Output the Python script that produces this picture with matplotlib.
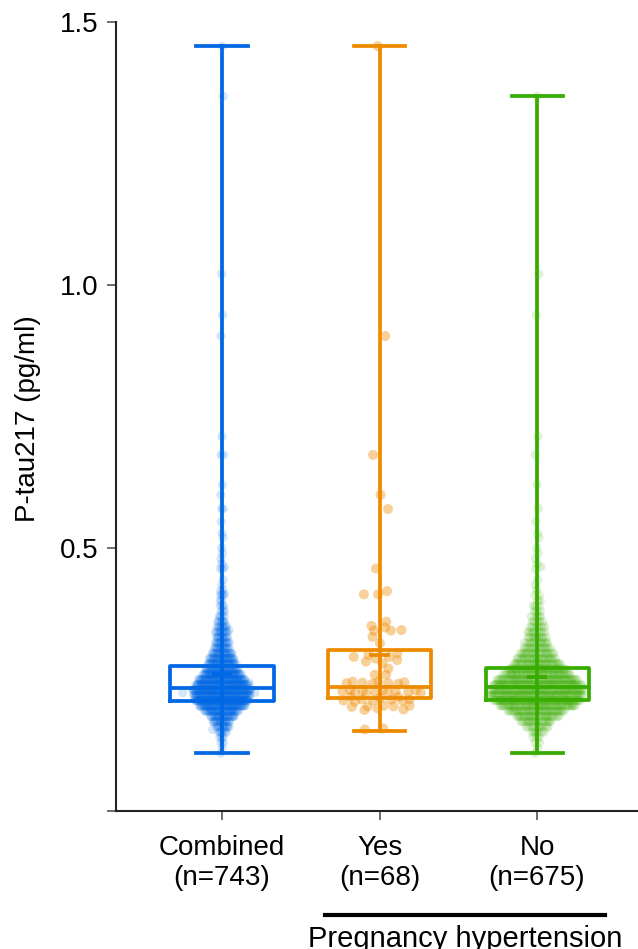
import numpy as np
import matplotlib.pyplot as plt
import matplotlib.transforms as mtransforms

plt.rcParams['font.family'] = ['Liberation Sans', 'DejaVu Sans']

# group labels and colours
groups = ['Combined\n(n=743)', 'Yes\n(n=68)', 'No\n(n=675)']
colors = ['#0068E4', '#EE8A00', '#38AC00']

# box statistics (q1, median, q3, mean, min, max)
box_q1 = [0.209, 0.214, 0.211]
box_med = [0.233, 0.236, 0.236]
box_q3 = [0.276, 0.307, 0.272]
box_mean = [0.260, 0.297, 0.255]
box_min = [0.111, 0.153, 0.111]
box_max = [1.454, 1.454, 1.359]

# pregnancy hypertension = yes (individual points estimated)
yes_vals = [1.454, 0.903, 0.677, 0.601, 0.574, 0.461, 0.418, 0.412, 0.412,
            0.360, 0.352, 0.349, 0.344, 0.343, 0.343, 0.331, 0.319,
            0.300, 0.297, 0.293, 0.293, 0.290, 0.287, 0.284, 0.281,
            0.271, 0.259, 0.259,
            0.246, 0.245, 0.243, 0.244, 0.246, 0.243, 0.242, 0.242,
            0.228, 0.230, 0.229, 0.226, 0.225, 0.224, 0.227, 0.230, 0.227, 0.225, 0.225, 0.226,
            0.210, 0.212, 0.212, 0.215, 0.217, 0.217, 0.212, 0.210, 0.208, 0.210,
            0.199, 0.198, 0.200, 0.193, 0.200, 0.192, 0.195, 0.199,
            0.157, 0.155]

# pregnancy hypertension = no: estimated counts per 0.01 bin plus the sparse tail
no_bin_vals = [0.11, 0.12, 0.13, 0.14, 0.15, 0.16, 0.17, 0.18, 0.19, 0.20,
               0.21, 0.22, 0.23, 0.24, 0.25, 0.26, 0.27, 0.28, 0.29, 0.30,
               0.31, 0.32, 0.33, 0.34, 0.35, 0.36, 0.37, 0.38, 0.39, 0.40,
               0.41, 0.42, 0.43, 0.44, 0.46, 0.48]
no_bin_counts = [1, 1, 2, 3, 6, 10, 16, 24, 34, 49,
                 59, 65, 65, 61, 53, 42, 34, 27, 21, 17,
                 13, 11, 9, 8, 6, 5, 4, 3, 3, 2,
                 2, 1, 1, 1, 1, 1]
no_tail = [1.359, 1.021, 0.943, 0.712, 0.677, 0.620, 0.575, 0.550,
           0.528, 0.520, 0.500, 0.490, 0.470, 0.464]

no_vals = np.concatenate([np.repeat(no_bin_vals, no_bin_counts), no_tail])
yes_vals = np.array(yes_vals)
combined_vals = np.concatenate([yes_vals, no_vals])
group_vals = [combined_vals, yes_vals, no_vals]


def sina_offsets(vals, maxw, win=0.006, power=0.75):
    # spread points sideways in proportion to local density
    dens = np.array([np.sum(np.abs(vals - v) <= win) for v in vals])
    hw = maxw * (dens / dens.max()) ** power
    order = np.argsort(vals, kind='stable')
    u = np.empty(len(vals))
    u[order] = ((np.arange(len(vals)) * 0.6180339887) % 1.0) * 2 - 1
    return hw * u


fig = plt.figure(figsize=(6.38, 9.49), dpi=100)
ax = fig.add_axes([0.1818, 0.1454, 0.8182, 0.8314])

box_w = 0.654
cap_w = 0.324

for i, vals in enumerate(group_vals):
    c = colors[i]
    if i == 1:
        xs = i + sina_offsets(vals, 0.30, win=0.008, power=0.6)
        ax.scatter(xs, vals, s=52, color=c, alpha=0.4,
                   edgecolors='none', zorder=2)
    else:
        xs = i + sina_offsets(vals, 0.30)
        ax.scatter(xs, vals, s=44, color=c, alpha=0.16,
                   edgecolors='none', zorder=2)

    stats = [dict(med=box_med[i], q1=box_q1[i], q3=box_q3[i],
                  whislo=box_min[i], whishi=box_max[i], fliers=[])]
    lp = dict(color=c, linewidth=2.7)
    ax.bxp(stats, positions=[i], widths=box_w, capwidths=cap_w,
           showfliers=False, boxprops=lp, whiskerprops=lp, capprops=lp,
           medianprops=lp, manage_ticks=False, zorder=3)
    ax.vlines(i, box_q1[i], box_q3[i], color=c, lw=2.7, zorder=3)
    ax.hlines(box_mean[i], i - 0.065, i + 0.065, color=c, lw=2.7, zorder=3)

ax.set_xlim(-0.673, 2.641)
ax.set_ylim(0, 1.5)
ax.set_yticks([0, 0.5, 1.0, 1.5])
ax.set_yticklabels(['', '0.5', '1.0', '1.5'])
ax.set_xticks([0, 1, 2])
ax.set_xticklabels(groups)

for s in ['top', 'right']:
    ax.spines[s].set_visible(False)
for s in ['left', 'bottom']:
    ax.spines[s].set_linewidth(1.5)
    ax.spines[s].set_color('#222222')

ax.tick_params(axis='both', length=6.5, width=1.2, color='#555555',
               labelsize=20)
ax.tick_params(axis='x', pad=11)
ax.tick_params(axis='y', pad=6)

ax.set_ylabel('P-tau217 (pg/ml)', fontsize=20)
ax.yaxis.set_label_coords(-0.144, 0.497)

# bracket for the pregnancy hypertension groups
trans = mtransforms.blended_transform_factory(ax.transData, ax.transAxes)
ax.plot([0.654, 2.432], [-0.132, -0.132], color='black', lw=3,
        transform=trans, clip_on=False)
ax.text(1.543, -0.1724, 'Pregnancy hypertension', fontsize=21,
        ha='center', va='baseline', transform=trans, clip_on=False)

fig.savefig('out.png', dpi=100)
